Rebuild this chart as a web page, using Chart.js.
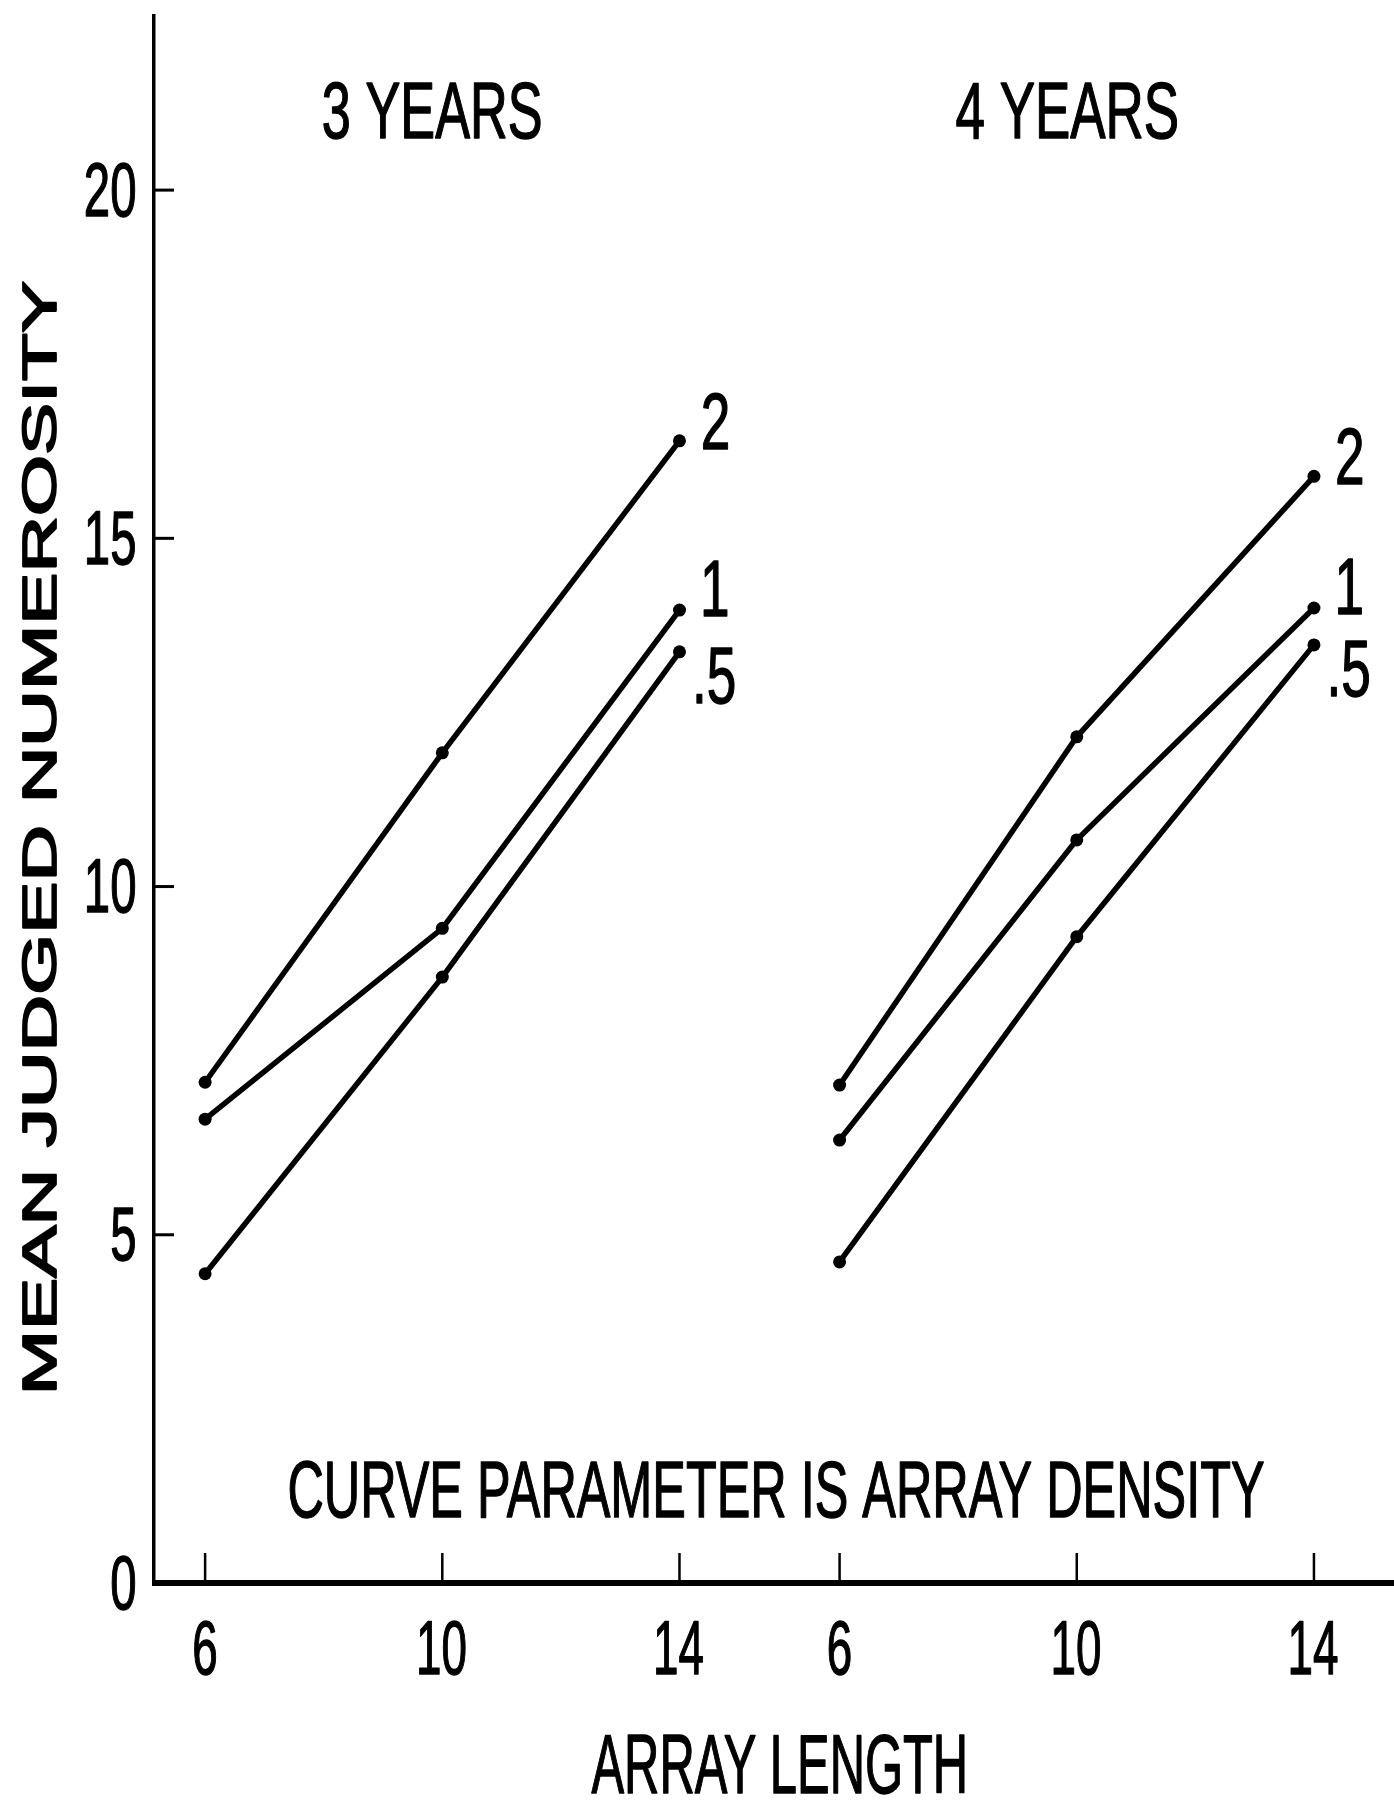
<!DOCTYPE html>
<html lang="en">
<head>
  <meta charset="UTF-8">
  <title>Mean judged numerosity by array length</title>
  <script src="https://cdn.jsdelivr.net/npm/chart.js"></script>
  <style>
    html, body {
      margin: 0;
      padding: 0;
      overflow: hidden;
      background: #fff;
    }
    canvas {
      display: block;
    }
  </style>
</head>
<body>
  <canvas id="grafico" width="1394" height="1802"></canvas>

  <script>
    // data
    const arrayLengths = [6, 10, 14];
    const densityLabels = ['2', '1', '.5'];
    const panelTitles = ['3 YEARS', '4 YEARS'];

    const age3Density2 = [7.19, 11.92, 16.40];
    const age3Density1 = [6.66, 9.40, 13.97];
    const age3DensityHalf = [4.44, 8.70, 13.37];

    const age4Density2 = [7.15, 12.15, 15.89];
    const age4Density1 = [6.36, 10.67, 14.00];
    const age4DensityHalf = [4.61, 9.28, 13.47];

    const yTicks = [0, 5, 10, 15, 20];
    const xTickLabels = ['6', '10', '14'];

    // the 4 year panel sits to the right of the 3 year one on the same axis
    const panelOffsets = [0, 10.7];

    const FONT = '"Liberation Sans", Arial, sans-serif';

    function punto(x, y) {
      return { x: x, y: y };
    }

    function serie(valores, offset) {
      return valores.map((v, i) => punto(arrayLengths[i] + offset, v));
    }

    const series = [
      [age3Density2, age3Density1, age3DensityHalf],
      [age4Density2, age4Density1, age4DensityHalf]
    ];

    const datasets = [];
    series.forEach((grupo, p) => {
      grupo.forEach((valores, d) => {
        datasets.push({
          label: panelTitles[p] + ' density ' + densityLabels[d],
          data: serie(valores, panelOffsets[p]),
          borderColor: '#000',
          backgroundColor: '#000',
          borderWidth: 5.5,
          pointRadius: 6.5,
          pointBorderWidth: 0,
          tension: 0,
          fill: false,
          clip: false,
          panel: p,
          density: d
        });
      });
    });

    // condensed lettering: scale text horizontally
    function texto(ctx, str, cx, cy, cap, opts) {
      opts = opts || {};
      const size = cap / 0.72;
      ctx.save();
      ctx.font = size + 'px ' + FONT;
      ctx.fillStyle = '#000';
      ctx.strokeStyle = '#000';
      ctx.lineWidth = opts.weight || 1.4;
      ctx.lineJoin = 'round';
      ctx.textAlign = 'left';
      ctx.textBaseline = 'alphabetic';
      const m = ctx.measureText(str);
      const ink = m.actualBoundingBoxLeft + m.actualBoundingBoxRight;
      const sx = opts.width ? opts.width / ink : (opts.sx || 0.62);
      ctx.translate(cx, cy);
      if (opts.rot) ctx.rotate(opts.rot);
      ctx.scale(sx, 1);
      let x0 = (m.actualBoundingBoxLeft - m.actualBoundingBoxRight) / 2;
      if (opts.align === 'right') x0 = -m.actualBoundingBoxRight;
      ctx.fillText(str, x0, cap / 2);
      ctx.strokeText(str, x0, cap / 2);
      ctx.restore();
    }

    const decoraciones = {
      id: 'decoraciones',
      afterDraw(chart) {
        const ctx = chart.ctx;
        const xs = chart.scales.x;
        const ys = chart.scales.y;
        const base = ys.getPixelForValue(0);

        // baseline runs off the right edge of the sheet
        ctx.save();
        ctx.strokeStyle = '#000';
        ctx.lineWidth = 6;
        ctx.beginPath();
        ctx.moveTo(xs.left - 2, base);
        ctx.lineTo(chart.width, base);
        ctx.stroke();

        // tick marks, drawn inward
        ctx.lineWidth = 3;
        yTicks.forEach(v => {
          if (v === 0) return;
          const py = ys.getPixelForValue(v);
          ctx.beginPath();
          ctx.moveTo(xs.left, py);
          ctx.lineTo(xs.left + 20, py);
          ctx.stroke();
        });
        ctx.lineWidth = 2.5;
        panelOffsets.forEach(off => {
          arrayLengths.forEach(len => {
            const px = xs.getPixelForValue(len + off);
            ctx.beginPath();
            ctx.moveTo(px, base);
            ctx.lineTo(px, base - 30);
            ctx.stroke();
          });
        });
        ctx.restore();

        // tick labels
        yTicks.forEach(v => {
          texto(ctx, String(v), xs.left - 19, ys.getPixelForValue(v) - 2, 55, { sx: 0.62, align: 'right' });
        });
        panelOffsets.forEach(off => {
          arrayLengths.forEach((len, i) => {
            texto(ctx, xTickLabels[i], xs.getPixelForValue(len + off), base + 63, 55, { sx: 0.6 });
          });
        });

        // panel titles
        const titleWidths = [217, 221];
        panelTitles.forEach((t, p) => {
          texto(ctx, t, xs.getPixelForValue(10 + panelOffsets[p]) - 10, 109, 57, { width: titleWidths[p] });
        });

        // curve labels at the end of each line
        const labelDy = [-21, -23, 22];
        chart.data.datasets.forEach((ds, i) => {
          const meta = chart.getDatasetMeta(i);
          const last = meta.data[meta.data.length - 1];
          texto(ctx, densityLabels[ds.density], last.x + 36, last.y + labelDy[ds.density], 58, { sx: 0.66 });
        });

        texto(ctx, 'CURVE PARAMETER IS ARRAY DENSITY', 777, 1488, 57, { width: 974 });
        texto(ctx, 'ARRAY LENGTH', 778, 1763, 60, { width: 373 });
        texto(ctx, 'MEAN JUDGED NUMEROSITY', 38, 836, 35, { width: 1109, rot: -Math.PI / 2, weight: 1.8 });
      }
    };

    new Chart(document.getElementById('grafico').getContext('2d'), {
      type: 'line',
      data: { datasets: datasets },
      options: {
        responsive: false,
        animation: false,
        layout: { autoPadding: false, padding: { left: 0, right: 0, top: 16, bottom: 0 } },
        plugins: {
          legend: { display: false },
          tooltip: { enabled: false }
        },
        scales: {
          x: {
            type: 'linear',
            min: 5.138,
            max: 26.05,
            grid: { display: false },
            border: { display: false },
            ticks: { display: false },
            afterFit: s => {
              s.height = 219;
              s.paddingLeft = 0;
              s.paddingRight = 0;
            }
          },
          y: {
            type: 'linear',
            min: 0,
            max: 22.5,
            grid: { display: false },
            border: { display: true, width: 3.5, color: '#000' },
            ticks: { display: false },
            afterFit: s => {
              s.width = 154;
              s.paddingTop = 0;
              s.paddingBottom = 0;
            },
            afterBuildTicks: s => { s.ticks = yTicks.map(v => ({ value: v })); }
          }
        }
      },
      plugins: [decoraciones]
    });
  </script>
</body>
</html>
